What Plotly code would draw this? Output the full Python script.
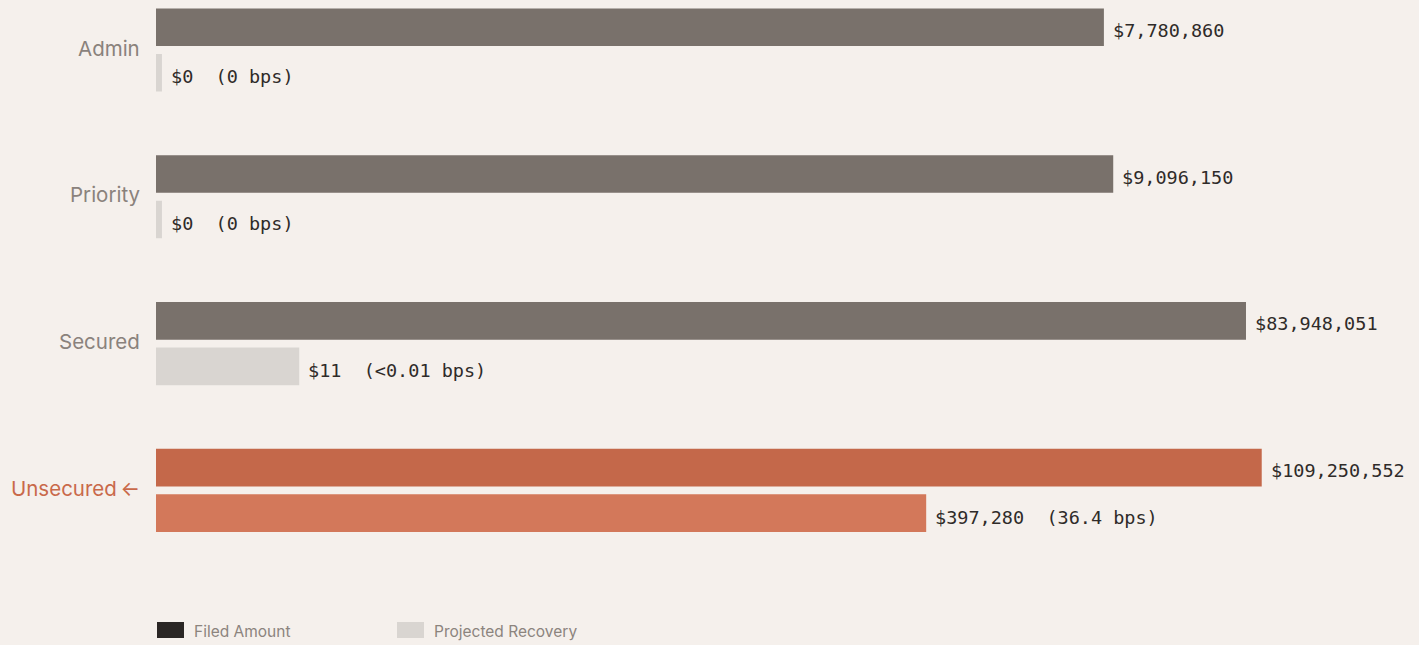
import math
import plotly.graph_objects as go

categories = ["Admin", "Priority", "Secured", "Unsecured"]
filed = [7780860, 9096150, 83948051, 109250552]
recovery = [0, 0, 11, 397280]
bps_labels = ["0 bps", "0 bps", "<0.01 bps", "36.4 bps"]

BG = "#f5f0ec"
FILED_C = ["#79716b", "#79716b", "#79716b", "#c4684a"]
REC_C = ["#d9d5d1", "#d9d5d1", "#d9d5d1", "#d3785a"]
LABEL_C = ["#8a827c", "#8a827c", "#8a827c", "#c9694a"]
MONO = "DejaVu Sans Mono, monospace"
SANS = "Inter, Lato, sans-serif"

pos = list(range(len(categories)))
off = 0.155
bw = 0.256
stub = 1.105  # minimum visible stub for zero values on log axis

fig = go.Figure()
fig.add_trace(go.Bar(
    y=[p - off for p in pos], x=filed, orientation="h", width=bw,
    marker=dict(color=FILED_C, line=dict(width=0)), hoverinfo="skip", showlegend=False,
))
rec_disp = [max(v, stub) for v in recovery]
fig.add_trace(go.Bar(
    y=[p + off for p in pos], x=rec_disp, orientation="h", width=bw,
    marker=dict(color=REC_C, line=dict(width=0)), hoverinfo="skip", showlegend=False,
))

ann = []
for i, c in enumerate(categories):
    ann.append(dict(x=math.log10(filed[i]), y=pos[i] - off, xref="x", yref="y",
                    text=f"${filed[i]:,}", showarrow=False, xanchor="left", xshift=7, yshift=-3,
                    font=dict(family=MONO, size=18.5, color="#2f2b29")))
    ann.append(dict(x=math.log10(rec_disp[i]), y=pos[i] + off, xref="x", yref="y",
                    text=f"${recovery[i]:,}\u00a0\u00a0({bps_labels[i]})", showarrow=False,
                    xanchor="left", xshift=7, yshift=-4,
                    font=dict(family=MONO, size=18.5, color="#2f2b29")))
    label = c + ("\u2009\u2190" if c == "Unsecured" else "")
    ann.append(dict(x=0, y=pos[i], xref="paper", yref="y", text=label, showarrow=False,
                    xanchor="right", xshift=-14, yshift=2,
                    font=dict(family=SANS, size=20.5, color=LABEL_C[i])))

# custom legend
legend_items = [("Filed Amount", "#2a2624", 157), ("Projected Recovery", "#d9d5d1", 397)]
shapes = []
W, H, L, T, B = 1419, 645, 156, 0, 45
plot_w = W - L - 25
plot_h = H - T - B
for name, col, px in legend_items:
    x0 = (px - L) / plot_w
    x1 = (px + 27 - L) / plot_w
    y0 = (plot_h - 638) / plot_h
    y1 = (plot_h - 622) / plot_h
    shapes.append(dict(type="rect", xref="paper", yref="paper", x0=x0, x1=x1, y0=y0, y1=y1,
                       fillcolor=col, line=dict(width=0)))
    ann.append(dict(x=(px + 35 - L) / plot_w, y=(plot_h - 631) / plot_h, xref="paper", yref="paper",
                    text=name, showarrow=False, xanchor="left", yanchor="middle",
                    font=dict(family=SANS, size=15.5, color="#8c847e")))

fig.update_layout(
    width=W, height=H,
    margin=dict(l=L, r=25, t=T, b=B),
    paper_bgcolor=BG, plot_bgcolor=BG,
    barmode="overlay",
    xaxis=dict(type="log", range=[0, 9], showgrid=False, zeroline=False, showticklabels=False,
               showline=False, ticks=""),
    yaxis=dict(range=[3.7466, -0.3406], showgrid=False, zeroline=False, showticklabels=False,
               showline=False, ticks=""),
    annotations=ann, shapes=shapes,
    hovermode=False,
)
fig.write_html("out.html")
